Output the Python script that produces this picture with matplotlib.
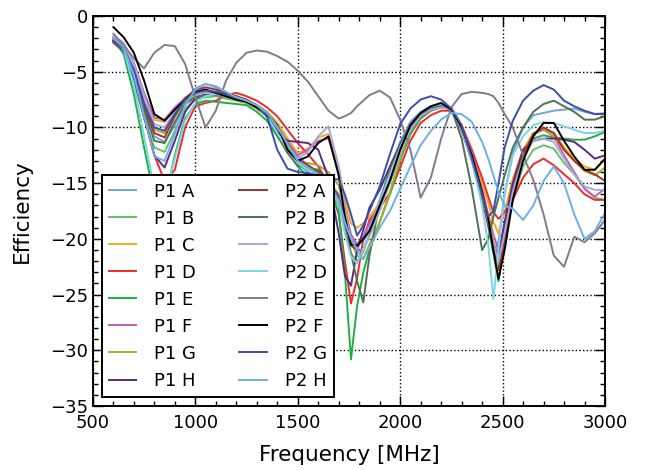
import matplotlib.pyplot as plt
from matplotlib.ticker import MultipleLocator

# frequency grid [MHz]
freq = [600, 650, 700, 750, 800, 850, 900, 950, 1000, 1050,
        1100, 1150, 1200, 1250, 1300, 1350, 1400, 1450, 1500, 1550,
        1600, 1650, 1700, 1730, 1760, 1790, 1820, 1850, 1900, 1950,
        2000, 2050, 2100, 2150, 2200, 2250, 2300, 2350, 2400, 2430,
        2455, 2480, 2510, 2550, 2600, 2650, 2700, 2750, 2800, 2850,
        2900, 2950, 3000]

labels = ['P1 A', 'P1 B', 'P1 C', 'P1 D', 'P1 E', 'P1 F', 'P1 G', 'P1 H',
          'P2 A', 'P2 B', 'P2 C', 'P2 D', 'P2 E', 'P2 F', 'P2 G', 'P2 H']
colors = ['#6fa5dc', '#66c266', '#f8a81c', '#ee2a2a', '#1fae45', '#c060b4',
          '#acac26', '#5a2a84', '#a8302c', '#4f7252', '#a8a8dc', '#7fd4e4',
          '#817b8c', '#000000', '#3a50a8', '#6cb0e6']

# efficiency [dB]
p1_a = [-2.0, -2.8, -5.0, -8.2, -10.8, -11.3, -9.8, -7.8, -6.5, -6.1,
        -6.4, -7.0, -7.4, -7.6, -8.0, -8.6, -9.6, -11.0, -12.6, -13.4,
        -14.0, -14.8, -16.0, -18.0, -20.0, -20.6, -20.2, -19.0, -16.5, -13.8,
        -11.3, -9.5, -8.6, -8.1, -7.9, -8.3, -9.8, -12.2, -15.5, -18.5,
        -21.3, -20.2, -16.0, -12.3, -10.0, -8.9, -8.7, -8.5, -8.4, -8.3,
        -8.6, -8.8, -8.7]
p1_b = [-2.1, -3.0, -5.8, -9.2, -11.8, -12.2, -10.3, -8.3, -7.5, -7.3,
        -7.2, -7.4, -7.6, -7.8, -8.3, -9.0, -10.3, -11.8, -13.3, -14.0,
        -14.6, -15.5, -17.0, -19.2, -21.3, -22.0, -21.2, -19.5, -17.3, -14.6,
        -12.0, -10.0, -8.9, -8.3, -8.1, -8.4, -10.1, -12.6, -15.9, -18.3,
        -20.3, -22.3, -20.0, -16.5, -13.5, -12.0, -11.6, -11.9, -13.2, -14.2,
        -15.5, -16.3, -16.5]
p1_c = [-1.9, -2.5, -4.3, -7.0, -9.3, -9.5, -8.3, -7.3, -6.9, -6.8,
        -6.9, -7.1, -7.3, -7.6, -8.0, -8.6, -9.6, -11.0, -12.3, -11.9,
        -10.9, -10.6, -13.5, -16.5, -18.6, -19.0, -18.6, -18.0, -16.8, -14.6,
        -11.9, -9.9, -8.8, -8.2, -7.9, -8.3, -9.9, -12.3, -15.0, -16.8,
        -18.5, -19.5, -17.6, -14.6, -12.0, -10.5, -10.2, -10.5, -11.8, -12.8,
        -13.5, -13.8, -12.9]
p1_d = [-2.4, -3.2, -5.6, -9.0, -12.5, -14.8, -13.8, -10.0, -8.1, -7.8,
        -7.6, -7.1, -6.9, -7.2, -7.6, -8.2, -9.0, -10.2, -11.4, -12.4,
        -13.5, -15.0, -17.8, -22.0, -25.8, -23.5, -20.0, -18.3, -17.2, -15.9,
        -13.6, -11.2, -9.6, -8.9, -8.5, -8.5, -9.8, -12.0, -14.5, -16.2,
        -17.6, -18.2, -17.6, -16.5, -14.5, -13.3, -12.8, -13.4, -14.2, -15.0,
        -16.0, -16.5, -16.5]
p1_e = [-2.1, -3.4, -7.0, -11.8, -16.3, -16.6, -12.5, -9.2, -7.9, -7.6,
        -7.7, -7.8, -7.9, -8.0, -8.6, -9.4, -10.8, -12.2, -13.5, -14.4,
        -15.2, -15.8, -17.5, -23.0, -30.8, -26.0, -23.0, -21.0, -18.5, -16.0,
        -13.0, -10.6, -9.2, -8.5, -8.2, -8.4, -10.0, -12.6, -16.0, -18.8,
        -21.3, -23.8, -20.0, -15.5, -12.5, -11.0, -10.7, -10.9, -11.0, -11.1,
        -11.1, -10.8, -10.4]
p1_f = [-2.0, -2.6, -4.2, -6.9, -9.1, -9.3, -8.2, -7.4, -7.0, -6.9,
        -7.0, -7.2, -7.4, -7.6, -8.1, -8.8, -10.0, -11.4, -12.5, -12.0,
        -11.2, -11.0, -14.0, -17.2, -19.6, -20.5, -19.8, -18.6, -16.9, -14.5,
        -12.0, -9.9, -8.8, -8.2, -7.9, -8.3, -9.9, -12.3, -15.6, -17.8,
        -19.6, -21.0, -18.8, -15.2, -12.3, -10.6, -10.2, -10.8, -12.5, -14.0,
        -15.5, -16.2, -15.5]
p1_g = [-2.2, -3.0, -5.0, -7.9, -10.2, -10.5, -9.0, -7.7, -7.2, -7.1,
        -7.1, -7.3, -7.5, -7.8, -8.3, -9.0, -10.3, -11.8, -13.0, -13.2,
        -13.4, -14.0, -15.2, -17.5, -20.2, -21.5, -21.8, -20.5, -18.5, -15.8,
        -12.8, -10.3, -9.0, -8.3, -8.0, -8.4, -10.2, -12.6, -15.8, -18.0,
        -20.2, -22.5, -20.0, -16.0, -12.5, -10.5, -10.1, -10.8, -12.0, -13.0,
        -13.9, -14.3, -13.6]
p1_h = [-2.3, -3.1, -5.6, -9.0, -12.5, -13.6, -11.2, -8.6, -7.4, -7.0,
        -6.9, -7.0, -7.2, -7.6, -8.1, -8.9, -10.4, -11.2, -11.3, -11.4,
        -12.0, -14.5, -19.5, -23.3, -24.2, -21.0, -19.2, -17.2, -15.6, -13.5,
        -11.5, -9.8, -8.8, -8.2, -8.0, -8.4, -10.2, -12.8, -16.2, -18.5,
        -20.5, -21.5, -18.5, -15.0, -12.0, -11.2, -11.0, -11.0, -11.1, -11.3,
        -12.0, -12.8, -12.5]
p2_a = [-2.3, -3.0, -5.0, -8.2, -10.5, -10.9, -9.0, -7.4, -6.6, -6.4,
        -6.6, -6.9, -7.2, -7.5, -8.0, -8.7, -9.9, -11.4, -12.8, -13.4,
        -14.0, -14.8, -16.2, -18.5, -20.6, -21.0, -21.0, -19.5, -17.3, -14.9,
        -12.3, -10.2, -9.0, -8.4, -8.1, -8.4, -10.3, -13.0, -16.5, -18.8,
        -20.8, -22.8, -20.3, -16.0, -12.5, -10.6, -10.0, -10.5, -12.0, -13.0,
        -13.8, -14.2, -14.8]
p2_b = [-2.2, -3.0, -5.4, -8.5, -11.2, -11.4, -9.5, -7.9, -7.3, -7.1,
        -7.1, -7.2, -7.4, -7.7, -8.2, -9.0, -10.6, -12.3, -13.4, -13.6,
        -13.8, -14.8, -16.5, -19.0, -21.3, -23.8, -25.7, -21.5, -16.8, -13.9,
        -11.6, -9.7, -8.7, -8.2, -8.0, -8.3, -11.0, -15.5, -21.0, -20.0,
        -18.0, -16.3, -14.3, -11.8, -10.0, -8.6, -7.9, -7.6, -8.1, -8.6,
        -9.3, -9.3, -9.0]
p2_c = [-1.8, -2.4, -4.3, -7.2, -9.7, -10.0, -8.6, -7.5, -7.0, -6.9,
        -7.0, -7.2, -7.4, -7.6, -8.1, -8.8, -10.0, -11.5, -12.8, -12.2,
        -10.8, -9.9, -13.5, -17.5, -20.3, -20.8, -21.0, -19.8, -17.5, -15.0,
        -12.4, -10.2, -9.0, -8.4, -8.2, -8.4, -10.0, -12.6, -16.0, -18.4,
        -20.4, -22.0, -19.5, -15.8, -12.8, -11.2, -11.0, -11.3, -12.8, -14.2,
        -15.3, -15.6, -15.6]
p2_d = [-2.0, -3.0, -6.2, -10.8, -15.5, -16.3, -12.8, -9.4, -7.8, -7.2,
        -7.0, -7.1, -7.3, -7.6, -8.1, -9.0, -10.5, -12.0, -13.2, -13.8,
        -14.2, -15.0, -16.8, -19.5, -21.6, -22.2, -21.0, -19.2, -16.8, -14.2,
        -11.8, -9.8, -8.7, -8.1, -7.9, -8.3, -10.2, -13.0, -17.0, -20.5,
        -25.4, -21.0, -16.0, -12.5, -10.8, -9.8, -9.5, -9.6, -9.9, -10.2,
        -10.5, -10.5, -10.3]
p2_e = [-1.6, -2.6, -3.8, -4.7, -3.3, -2.6, -2.7, -4.3, -7.3, -10.0,
        -8.5, -5.8, -4.2, -3.3, -3.1, -3.2, -3.6, -4.1, -4.9, -5.9,
        -7.2, -8.5, -9.2, -9.0, -8.7, -8.1, -7.6, -7.1, -6.7, -7.3,
        -9.3, -12.0, -16.3, -14.5, -11.0, -8.2, -7.0, -6.8, -6.9, -7.0,
        -7.2, -7.8, -8.8, -10.0, -12.5, -14.7, -17.8, -21.5, -22.5, -19.8,
        -20.3, -19.5, -18.3]
p2_f = [-1.0, -1.9, -3.3, -5.8, -8.8, -9.4, -8.4, -7.5, -6.8, -6.6,
        -6.9, -7.2, -7.5, -7.7, -8.2, -8.8, -9.8, -12.0, -13.0, -12.6,
        -11.4, -10.8, -14.3, -18.0, -20.5, -20.6, -20.0, -19.3, -17.0, -14.8,
        -12.0, -9.8, -8.7, -8.1, -7.8, -8.4, -10.0, -12.5, -15.8, -18.2,
        -21.0, -23.6, -21.0, -16.5, -13.0, -10.8, -9.6, -9.6, -11.2, -12.6,
        -13.8, -13.8, -12.8]
p2_g = [-2.2, -2.9, -4.8, -7.8, -10.0, -10.3, -8.8, -7.5, -6.9, -6.7,
        -6.8, -7.0, -7.3, -7.6, -8.0, -9.0, -12.0, -13.7, -14.0, -14.1,
        -14.3, -14.5, -14.7, -16.0, -17.8, -19.7, -18.8, -17.5, -15.3, -12.4,
        -9.7, -8.3, -7.5, -7.2, -7.5, -8.3, -9.8, -12.8, -16.0, -18.0,
        -17.5, -15.0, -11.8, -9.4, -7.6, -6.7, -6.2, -6.6, -7.6, -8.1,
        -8.5, -8.8, -8.8]
p2_h = [-2.0, -2.8, -5.3, -9.0, -12.6, -13.0, -10.6, -8.0, -6.6, -6.1,
        -6.3, -6.8, -7.3, -7.6, -8.0, -8.7, -9.9, -11.5, -13.0, -13.6,
        -14.2, -15.0, -16.5, -18.5, -20.0, -21.0, -21.8, -20.8, -19.0, -17.5,
        -15.5, -13.5, -11.6, -10.3, -9.3, -8.7, -8.8, -9.5, -11.3, -12.8,
        -14.3, -15.8, -17.0, -17.3, -18.3, -17.0, -14.8, -13.5, -15.0, -17.8,
        -20.0, -19.3, -17.7]

curves = [p1_a, p1_b, p1_c, p1_d, p1_e, p1_f, p1_g, p1_h,
          p2_a, p2_b, p2_c, p2_d, p2_e, p2_f, p2_g, p2_h]

fig = plt.figure(figsize=(6.45, 4.7), dpi=100)
ax = fig.add_axes([0.144, 0.136, 0.794, 0.830])

for vals, lab, col in zip(curves, labels, colors):
    ax.plot(freq, vals, color=col, lw=1.4, label=lab)

ax.set_xlim(500, 3000)
ax.set_ylim(-35, 0)
ax.set_xticks(range(500, 3001, 500))
ax.set_yticks(range(-35, 1, 5))
ax.xaxis.set_minor_locator(MultipleLocator(100))
ax.yaxis.set_minor_locator(MultipleLocator(1))
ax.tick_params(which='both', direction='in', top=True, right=True,
               labelsize=13, color='k')
ax.tick_params(which='major', length=7, width=1)
ax.tick_params(which='minor', length=3.5, width=1)
ax.tick_params(axis='x', pad=6)
ax.grid(True, which='major', linestyle=':', color='k', lw=1)
for s in ax.spines.values():
    s.set_linewidth(1.4)

ax.set_xlabel('Frequency [MHz]', fontsize=15.5, labelpad=9)
ax.set_ylabel('Efficiency', fontsize=15.5, labelpad=13)

leg = ax.legend(loc='lower left', ncol=2, fontsize=13, fancybox=False,
                edgecolor='k', framealpha=1, handlelength=1.5,
                handletextpad=1.0, columnspacing=2.4, labelspacing=0.5,
                borderaxespad=0.5)
leg.get_frame().set_linewidth(1.4)

fig.savefig('out.png', dpi=100)
